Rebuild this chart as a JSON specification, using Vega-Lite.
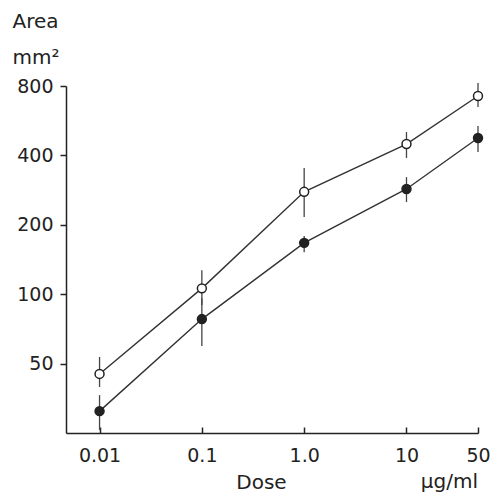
{
  "$schema": "https://vega.github.io/schema/vega-lite/v6.json",
  "width": 412,
  "height": 347,
  "autosize": {"type": "none"},
  "padding": {"left": 66, "top": 86, "right": 19, "bottom": 65},
  "background": "white",
  "title": {"text": "µg/ml", "orient": "bottom", "anchor": "end", "frame": "group", "font": "DejaVu Sans", "fontSize": 20, "fontWeight": "normal", "color": "#222", "offset": 0, "dy": -20},
  "config": {
    "view": {"stroke": null},
    "axis": {"grid": false, "domainColor": "#222", "tickColor": "#222", "domainWidth": 1.5, "tickWidth": 1.5, "labelFont": "DejaVu Sans", "labelFontSize": 19, "labelColor": "#222", "titleFont": "DejaVu Sans", "titleFontSize": 20, "titleFontWeight": "normal", "titleColor": "#222"}
  },
  "data": {"values": [
    {"dose": 0.01, "area": 45.1, "lo": 39.6, "hi": 53.4, "group": "open"},
    {"dose": 0.1, "area": 106, "lo": 89.8, "hi": 127, "group": "open"},
    {"dose": 1, "area": 278, "lo": 216, "hi": 353, "group": "open"},
    {"dose": 10, "area": 448, "lo": 390, "hi": 505, "group": "open"},
    {"dose": 50, "area": 724, "lo": 649, "hi": 824, "group": "open"},
    {"dose": 0.01, "area": 31.1, "lo": 25.8, "hi": 36.5, "group": "filled"},
    {"dose": 0.1, "area": 78, "lo": 59.6, "hi": 96, "group": "filled"},
    {"dose": 1, "area": 167, "lo": 152, "hi": 179, "group": "filled"},
    {"dose": 10, "area": 286, "lo": 251, "hi": 322, "group": "filled"},
    {"dose": 50, "area": 476, "lo": 414, "hi": 537, "group": "filled"}
  ]},
  "encoding": {
    "x": {"field": "dose", "type": "quantitative",
      "scale": {"type": "log", "domain": [0.0047, 50], "nice": false},
      "axis": {"values": [0.01, 0.1, 1, 10, 50], "labelExpr": "datum.value == 1 ? '1.0' : datum.value == 0.01 ? '0.01' : datum.value == 0.1 ? '0.1' : datum.value == 10 ? '10' : '50'", "tickSize": -6, "labelPadding": 19, "labelFlush": false, "labelOverlap": false, "title": "Dose", "titleX": 195, "titleY": 55, "titleAlign": "center", "titleBaseline": "alphabetic"}}
  },
  "layer": [
    {
      "mark": {"type": "rule", "color": "#444", "strokeWidth": 1.3},
      "encoding": {
        "y": {"field": "lo", "type": "quantitative", "scale": {"type": "log", "domain": [25, 800], "nice": false},
          "axis": {"values": [50, 100, 200, 400, 800], "tickSize": 6, "labelPadding": 7, "labelOverlap": false, "labelFlush": false, "title": ["Area", "mm²"], "titleAngle": 0, "titleAlign": "left", "titleBaseline": "alphabetic", "titleX": -54, "titleY": -59, "titleLineHeight": 36}},
        "y2": {"field": "hi"}
      }
    },
    {
      "mark": {"type": "line", "color": "#333", "strokeWidth": 1.4},
      "encoding": {
        "y": {"field": "area", "type": "quantitative", "scale": {"type": "log", "domain": [25, 800], "nice": false},
          "axis": {"values": [50, 100, 200, 400, 800], "tickSize": 6, "labelPadding": 7, "labelOverlap": false, "labelFlush": false, "title": ["Area", "mm²"], "titleAngle": 0, "titleAlign": "left", "titleBaseline": "alphabetic", "titleX": -54, "titleY": -59, "titleLineHeight": 36}},
        "detail": {"field": "group"}
      }
    },
    {
      "mark": {"type": "point", "filled": false, "stroke": "#222", "strokeWidth": 1.5, "size": 80, "opacity": 1},
      "encoding": {
        "y": {"field": "area", "type": "quantitative", "scale": {"type": "log", "domain": [25, 800], "nice": false},
          "axis": {"values": [50, 100, 200, 400, 800], "tickSize": 6, "labelPadding": 7, "labelOverlap": false, "labelFlush": false, "title": ["Area", "mm²"], "titleAngle": 0, "titleAlign": "left", "titleBaseline": "alphabetic", "titleX": -54, "titleY": -59, "titleLineHeight": 36}},
        "fill": {"field": "group", "type": "nominal", "scale": {"domain": ["open", "filled"], "range": ["white", "#222"]}, "legend": null}
      }
    }
  ]
}
